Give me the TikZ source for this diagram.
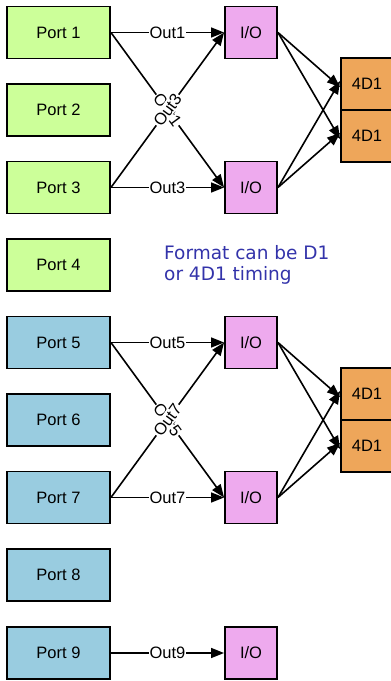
\documentclass[tikz,border=0pt]{standalone}
\usepackage{fontspec}
\setmainfont{Liberation Sans}
\newfontfamily\notefont{DejaVu Sans}
\usetikzlibrary{arrows.meta,calc}
\definecolor{portgreen}{RGB}{204,255,153}
\definecolor{portblue}{RGB}{153,204,224}
\definecolor{iopink}{RGB}{238,170,238}
\definecolor{dorange}{RGB}{238,166,90}
\definecolor{noteblue}{RGB}{51,51,170}
\tikzset{
  box/.style={draw=black,line width=1.9pt,minimum height=52pt,inner sep=0pt,font=\fontsize{16.5}{18}\selectfont},
  portg/.style={box,fill=portgreen,minimum width=103pt},
  portb/.style={box,fill=portblue,minimum width=103pt},
  iobox/.style={box,fill=iopink,minimum width=52pt},
  dbox/.style={box,fill=dorange,minimum width=52pt},
  conn/.style={line width=1.6pt,-{Triangle[length=13pt,width=10pt]}},
  lbl/.style={fill=white,inner sep=1pt,font=\fontsize{16.5}{18}\selectfont},
}
\begin{document}
\begin{tikzpicture}[x=1pt,y=-1pt]
\useasboundingbox (0,0) rectangle (391,681);
% ports
\node[portg] (p1) at (58.5,32.5) {Port 1};
\node[portg] (p2) at (58.5,110) {Port 2};
\node[portg] (p3) at (58.5,187.5) {Port 3};
\node[portg] (p4) at (58.5,265) {Port 4};
\node[portb] (p5) at (58.5,342.5) {Port 5};
\node[portb] (p6) at (58.5,420) {Port 6};
\node[portb] (p7) at (58.5,497.5) {Port 7};
\node[portb] (p8) at (58.5,575) {Port 8};
\node[portb] (p9) at (58.5,653) {Port 9};
% I/O
\node[iobox] (io1) at (251,32.5) {I/O};
\node[iobox] (io3) at (251,187.5) {I/O};
\node[iobox] (io5) at (251,342.5) {I/O};
\node[iobox] (io7) at (251,497.5) {I/O};
\node[iobox] (io9) at (251,653) {I/O};
% 4D1
\node[dbox] (da1) at (367,84) {4D1};
\node[dbox] (da2) at (367,136) {4D1};
\node[dbox] (db1) at (367,394) {4D1};
\node[dbox] (db2) at (367,446) {4D1};
% note
\node[anchor=north west,align=left,text=noteblue,inner sep=0pt,
  font=\notefont\fontsize{18.5}{21}\selectfont] (note) at (164,245) {Format can be D1\\or 4D1 timing};
% group 1
\draw[conn] (p1.east) -- node[lbl]{Out1} (io1.west);
\draw[conn] (p3.east) -- node[lbl]{Out3} (io3.west);
\draw[conn] (p1.east) -- node[lbl,sloped]{Out1} (io3.west);
\draw[conn] (p3.east) -- node[lbl,sloped]{Out3} (io1.west);
\draw[conn] (io1.east) -- ([yshift=-3pt]da1.west);
\draw[conn] (io1.east) -- ([yshift=-3pt]da2.west);
\draw[conn] (io3.east) -- ([yshift=3pt]da1.west);
\draw[conn] (io3.east) -- ([yshift=3pt]da2.west);
% group 2
\draw[conn] (p5.east) -- node[lbl]{Out5} (io5.west);
\draw[conn] (p7.east) -- node[lbl]{Out7} (io7.west);
\draw[conn] (p5.east) -- node[lbl,sloped]{Out5} (io7.west);
\draw[conn] (p7.east) -- node[lbl,sloped]{Out7} (io5.west);
\draw[conn] (io5.east) -- ([yshift=-3pt]db1.west);
\draw[conn] (io5.east) -- ([yshift=-3pt]db2.west);
\draw[conn] (io7.east) -- ([yshift=3pt]db1.west);
\draw[conn] (io7.east) -- ([yshift=3pt]db2.west);
% port 9
\draw[conn] (p9.east) -- node[lbl]{Out9} (io9.west);
\end{tikzpicture}
\end{document}
